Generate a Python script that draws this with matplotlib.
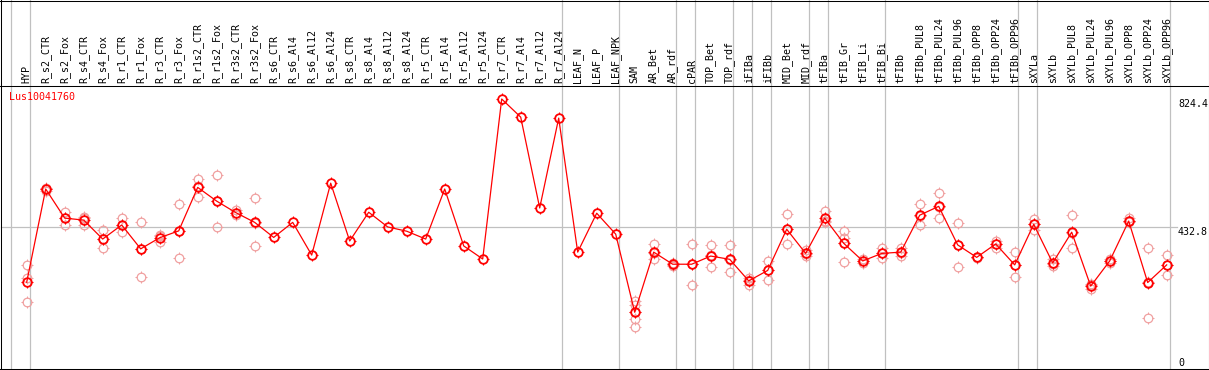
import matplotlib
matplotlib.use("Agg")
import matplotlib.pyplot as plt
import matplotlib.transforms as mtransforms
from matplotlib.path import Path
from matplotlib.lines import Line2D

# ---------------- data ----------------
labels = ["HYP", "R_s2_CTR", "R_s2_Fox", "R_s4_CTR", "R_s4_Fox", "R_r1_CTR", "R_r1_Fox",
          "R_r3_CTR", "R_r3_Fox", "R_r1s2_CTR", "R_r1s2_Fox", "R_r3s2_CTR", "R_r3s2_Fox",
          "R_s6_CTR", "R_s6_Al4", "R_s6_Al12", "R_s6_Al24", "R_s8_CTR", "R_s8_Al4", "R_s8_Al12",
          "R_s8_Al24", "R_r5_CTR", "R_r5_Al4", "R_r5_Al12", "R_r5_Al24", "R_r7_CTR", "R_r7_Al4",
          "R_r7_Al12", "R_r7_Al24", "LEAF_N", "LEAF_P", "LEAF_NPK", "SAM", "AR_Bet", "AR_rdf",
          "cPAR", "TOP_Bet", "TOP_rdf", "iFIBa", "iFIBb", "MID_Bet", "MID_rdf", "tFIBa",
          "tFIB_Gr", "tFIB_Li", "tFIB_Bi", "tFIBb", "tFIBb_PUL8", "tFIBb_PUL24", "tFIBb_PUL96",
          "tFIBb_OPP8", "tFIBb_OPP24", "tFIBb_OPP96", "sXYLa", "sXYLb", "sXYLb_PUL8",
          "sXYLb_PUL24", "sXYLb_PUL96", "sXYLb_OPP8", "sXYLb_OPP24", "sXYLb_OPP96"]

means = [264, 549, 460, 454, 396, 439, 366, 400, 421, 554, 512, 477, 447,
         401, 447, 347, 567, 390, 478, 433, 420, 396, 549, 375, 335,
         824.4, 769, 491, 766, 356, 475, 411, 172, 356, 319, 319, 344, 334,
         268, 300, 426, 352, 460, 383, 329, 352, 356, 469, 496, 378, 340,
         381, 317, 441, 323, 417, 252, 329, 451, 263, 317]

reps = [[317, 278, 203], [553, 549, 543], [480, 460, 439], [464, 459, 439],
        [424, 396, 368], [461, 438, 418], [447, 366, 279], [408, 404, 388],
        [502, 422, 337], [579, 558, 526], [591, 512, 432], [485, 476, 470],
        [521, 446, 375],
        [], [], [], [], [], [], [], [], [], [], [], [], [], [], [], [],
        [], [], [],
        [207, 194, 172, 151, 128], [381, 352, 334], [322, 318, 313], [381, 321, 255],
        [377, 346, 310], [377, 331, 294], [278, 270, 255], [329, 302, 270],
        [472, 426, 380], [362, 350, 345], [482, 450, 447], [421, 398, 383, 325],
        [335, 329, 322], [368, 352, 337], [368, 354, 345], [502, 466, 438],
        [536, 493, 460], [444, 379, 311], [342, 340, 337], [391, 382, 370],
        [356, 316, 279], [457, 442, 424], [334, 320, 315], [469, 414, 368],
        [258, 254, 242], [334, 330, 322], [460, 451, 447], [368, 266, 154],
        [347, 318, 285]]

separators_after = [-1, 0, 28, 31, 34, 35, 37, 38, 39, 41, 42, 45, 52, 53, 60]
gene = "Lus10041760"
ref_value = 432.8
top_value = 824.4

# ---------------- layout ----------------
W, H = 1209, 370
fig = plt.figure(figsize=(W / 100, H / 100), dpi=100)
mono = "DejaVu Sans Mono"
FS = 7.2
GRAY = "#c0c0c0"
RED = "#ff0000"
PINK = "#f0a0a0"


def fx(p):
    return p / W


def fy(p):
    return 1 - p / H


ax_l, ax_r, ax_t, ax_b = 1.0, 1170.0, 85.5, 368.5
ax = fig.add_axes([fx(ax_l), fy(ax_b), fx(ax_r - ax_l), (ax_b - ax_t) / H])
step = 19.0
x0px = 26.7
ax.set_xlim((ax_l - x0px) / step, (ax_r - x0px) / step)
ax.set_ylim(0, (ax_b - ax_t) / 0.3269)
for s in ax.spines.values():
    s.set_visible(False)
ax.set_facecolor("none")

xs = list(range(len(labels)))

# separators
frac_top = ax_b / (ax_b - ax_t)
for s in separators_after:
    ax.axvline(s + 0.19, ymin=0, ymax=frac_top, color=GRAY, lw=0.9,
               clip_on=False, zorder=0)

# reference line
ax.axhline(ref_value, xmin=0, xmax=1.006, color=GRAY, lw=0.9, clip_on=False, zorder=0)

# small tick marks around the circles
ticks = Path([(0, 0.72), (0, 1.0), (0, -0.72), (0, -1.0), (0.72, 0), (1.0, 0),
              (-0.72, 0), (-1.0, 0)], [Path.MOVETO, Path.LINETO] * 4)

for i, rs in enumerate(reps):
    if rs:
        ax.plot([i] * len(rs), rs, ls="none", marker="o", ms=6.2, mfc="none",
                mec=PINK, mew=0.9, zorder=2, clip_on=False)
        ax.plot([i] * len(rs), rs, ls="none", marker=ticks, ms=8.4, mfc="none",
                mec=PINK, mew=0.7, zorder=2, clip_on=False)

ax.plot(xs, means, color=RED, lw=0.9, zorder=3, clip_on=False)
ax.plot(xs, means, ls="none", marker="o", ms=6.2, mfc="none",
        mec=RED, mew=1.3, zorder=4, clip_on=False)
ax.plot(xs, means, ls="none", marker=ticks, ms=8.6, mfc="none",
        mec=RED, mew=0.8, zorder=4, clip_on=False)

# column labels on top
ax.set_xticks(xs)
ax.set_xticklabels(labels, rotation=90, fontfamily=mono, fontsize=FS)
ax.xaxis.tick_top()
ax.tick_params(axis="x", length=0, pad=1.5, colors="black")
ax.set_yticks([])

# right-hand value labels
trans = mtransforms.blended_transform_factory(fig.transFigure, ax.transData)
ax.text(fx(1178), top_value, f"{top_value:.1f}", transform=trans, ha="left", va="top",
        fontfamily=mono, fontsize=FS)
ax.text(fx(1178), ref_value, f"{ref_value:.1f}", transform=trans, ha="left", va="top",
        fontfamily=mono, fontsize=FS)
fig.text(fx(1178), fy(365.5), "0", ha="left", va="baseline", fontfamily=mono, fontsize=FS)

# gene name
fig.text(fx(9.3), fy(96.7), gene, color=RED, ha="left", va="center",
         fontfamily=mono, fontsize=FS)

# frame lines
def hline(y, x1=0, x2=1209):
    fig.add_artist(Line2D([fx(x1), fx(x2)], [fy(y), fy(y)], transform=fig.transFigure,
                          color="black", lw=0.75))


def vline(x, y1=0, y2=369):
    fig.add_artist(Line2D([fx(x), fx(x)], [fy(y1), fy(y2)], transform=fig.transFigure,
                          color="black", lw=0.75))


hline(0.5)
hline(85.5)
hline(368.5)
vline(0.5)
vline(1208.5)

fig.savefig("out.png", dpi=100)
